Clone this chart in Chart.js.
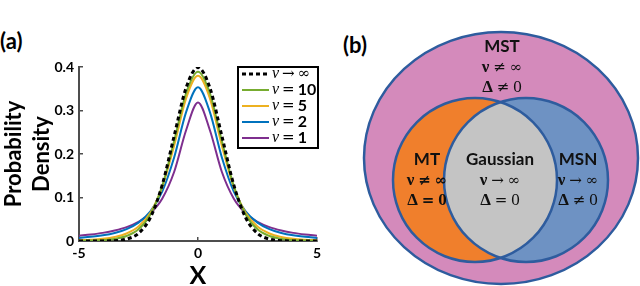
<!DOCTYPE html>
<html>
<head>
<meta charset="utf-8">
<script src="https://cdn.jsdelivr.net/npm/chart.js@4.4.0/dist/chart.umd.min.js"></script>
<style>
  body { margin: 0; background: #fff; width: 640px; height: 286px; position: relative; overflow: hidden; }
  canvas { position: absolute; top: 0; }
  #lines { left: 0; }
  #venn { left: 330px; }
  .tag { position: absolute; font: bold 22px Lato, sans-serif; color: #000; }
</style>
</head>
<body>
<div class="tag" style="left:0px; top:27px;">(a)</div>
<div class="tag" style="left:343px; top:31px;">(b)</div>
<canvas id="lines" width="330" height="286"></canvas>
<canvas id="venn" width="310" height="286"></canvas>
<script>
// x samples for the densities
const xs = [-5, -4.5, -4, -3.5, -3, -2.5, -2, -1.5, -1, -0.5, 0, 0.5, 1, 1.5, 2, 2.5, 3, 3.5, 4, 4.5, 5];
const nuInf = [0.0000015, 0.000016, 0.00013, 0.00087, 0.0044, 0.0175, 0.0540, 0.1295, 0.2420, 0.3521, 0.3989,
  0.3521, 0.2420, 0.1295, 0.0540, 0.0175, 0.0044, 0.00087, 0.00013, 0.000016, 0.0000015];
const nu10 = [0.0004, 0.0009, 0.0020, 0.0048, 0.0114, 0.0269, 0.0611, 0.1274, 0.2304, 0.3397, 0.3891,
  0.3397, 0.2304, 0.1274, 0.0611, 0.0269, 0.0114, 0.0048, 0.0020, 0.0009, 0.0004];
const nu5 = [0.0018, 0.0030, 0.0051, 0.0093, 0.0173, 0.0333, 0.0651, 0.1245, 0.2197, 0.3279, 0.3796,
  0.3279, 0.2197, 0.1245, 0.0651, 0.0333, 0.0173, 0.0093, 0.0051, 0.0030, 0.0018];
const nu2 = [0.0071, 0.0095, 0.0131, 0.0186, 0.0274, 0.0422, 0.0680, 0.1141, 0.1925, 0.2963, 0.3536,
  0.2963, 0.1925, 0.1141, 0.0680, 0.0422, 0.0274, 0.0186, 0.0131, 0.0095, 0.0071];
const nu1 = [0.0122, 0.0150, 0.0187, 0.0241, 0.0318, 0.0439, 0.0637, 0.0979, 0.1592, 0.2546, 0.3183,
  0.2546, 0.1592, 0.0979, 0.0637, 0.0439, 0.0318, 0.0241, 0.0187, 0.0150, 0.0122];
const seriesLabels = ['ν → ∞', 'ν = 10', 'ν = 5', 'ν = 2', 'ν = 1'];

// venn diagram texts
const vennSets = ['MST', 'MT', 'Gaussian', 'MSN'];
const vennNu = ['ν ≠ ∞', 'ν ≠ ∞', 'ν → ∞', 'ν → ∞'];
const vennDelta = ['Δ ≠ 0', 'Δ = 0', 'Δ = 0', 'Δ ≠ 0'];

const colors = ['#000000', '#77AC30', '#EDB120', '#0072BD', '#7E2F8E'];
const series = [nuInf, nu10, nu5, nu2, nu1];

const toPts = arr => arr.map((y, i) => ({ x: xs[i], y: y }));

const legendBox = {
  id: 'legendBox',
  afterDatasetsDraw(chart) {
    const { ctx, chartArea } = chart;
    const w = 80, h = 81;
    const left = chartArea.right + 1 - w, top = chartArea.top;
    ctx.save();
    ctx.fillStyle = '#fff';
    ctx.fillRect(left, top, w, h);
    ctx.strokeStyle = '#000';
    ctx.lineWidth = 2;
    ctx.strokeRect(left, top, w, h);
    chart.data.datasets.forEach((ds, i) => {
      const y = top + 7 + i * 16;
      ctx.beginPath();
      ctx.strokeStyle = ds.borderColor;
      ctx.lineWidth = ds.borderWidth;
      ctx.setLineDash(ds.borderDash || []);
      ctx.moveTo(left + 4, y);
      ctx.lineTo(left + 31, y);
      ctx.stroke();
      ctx.setLineDash([]);
      const parts = ds.label.split(' ');
      let x = left + 34;
      ctx.fillStyle = '#000';
      ctx.textBaseline = 'middle';
      ctx.font = 'italic 16px "Liberation Serif"';
      ctx.fillText(parts[0], x, y);
      x += ctx.measureText(parts[0]).width + 3;
      ctx.font = '15px "DejaVu Serif"';
      ctx.fillText(parts[1], x, y);
      x += ctx.measureText(parts[1]).width + 3;
      ctx.font = parts[2] === '∞' ? '15px "DejaVu Serif"' : 'bold 16px Lato';
      ctx.fillText(parts[2], x, y);
    });
    ctx.restore();
  }
};

const tickFont = { family: 'Lato', weight: 'bold', size: 14 };
const axisGrey = '#4d4d4d';

new Chart(document.getElementById('lines'), {
  type: 'line',
  data: {
    datasets: series.map((s, i) => ({
      label: seriesLabels[i],
      data: toPts(s),
      borderColor: colors[i],
      borderWidth: i === 0 ? 3 : 2,
      borderDash: i === 0 ? [4, 3] : [],
      pointRadius: 0,
      cubicInterpolationMode: 'monotone',
      fill: false
    }))
  },
  options: {
    responsive: false,
    animation: false,
    layout: { padding: { left: 0, top: 67, right: 13, bottom: 0 } },
    plugins: { legend: { display: false }, tooltip: { enabled: false } },
    scales: {
      x: {
        type: 'linear', min: -5, max: 5,
        ticks: { stepSize: 5, color: '#000', font: tickFont, padding: 8, maxRotation: 0 },
        grid: { drawOnChartArea: false, tickLength: -4, color: axisGrey, lineWidth: 1.5 },
        border: { color: axisGrey, width: 2 },
        title: { display: true, text: 'X', color: '#000', padding: 0,
          font: { family: 'Lato', weight: 'bold', size: 25, lineHeight: '20px' } },
        afterFit(s) { s.height = 45; }
      },
      y: {
        min: 0, max: 0.4,
        ticks: { stepSize: 0.1, color: '#000', font: tickFont, padding: 9 },
        grid: { drawOnChartArea: false, tickLength: -4, color: axisGrey, lineWidth: 1.5 },
        border: { color: axisGrey, width: 2 },
        title: { display: true, text: ['Probability', 'Density'], color: '#000', padding: 0,
          font: { family: 'Lato', weight: 'bold', size: 22, lineHeight: '28px' } },
        afterFit(s) { s.width = 79; }
      }
    }
  },
  plugins: [legendBox]
});

// venn geometry, in page pixels through hidden scales
const shapes = {
  outer: { cx: 501, cy: 158, rx: 137, ry: 126, fill: '#D48ABB' },
  left: { cx: 475, cy: 180, r: 82, fill: '#F07F2C' },
  right: { cx: 526, cy: 180, r: 82, fill: '#6E92C3' },
  lens: '#C4C4C4',
  edge: '#2E5C9E'
};
const labelPos = [[502, 47], [427, 160], [500, 160], [578, 160]];

const vennDraw = {
  id: 'vennDraw',
  afterDraw(chart) {
    const { ctx } = chart;
    const sx = chart.scales.x, sy = chart.scales.y;
    const px = v => sx.getPixelForValue(v), py = v => sy.getPixelForValue(v);
    const ellipse = (cx, cy, rx, ry) => {
      ctx.beginPath();
      ctx.ellipse(px(cx), py(cy), Math.abs(px(cx + rx) - px(cx)), Math.abs(py(cy + ry) - py(cy)), 0, 0, Math.PI * 2);
    };
    const o = shapes.outer, l = shapes.left, r = shapes.right;
    ctx.save();
    ctx.lineWidth = 2.5;
    ctx.strokeStyle = shapes.edge;
    ellipse(o.cx, o.cy, o.rx, o.ry);
    ctx.fillStyle = o.fill; ctx.fill(); ctx.stroke();
    ellipse(l.cx, l.cy, l.r, l.r);
    ctx.fillStyle = l.fill; ctx.fill();
    ellipse(r.cx, r.cy, r.r, r.r);
    ctx.fillStyle = r.fill; ctx.fill();
    ctx.save();
    ellipse(l.cx, l.cy, l.r, l.r);
    ctx.clip();
    ellipse(r.cx, r.cy, r.r, r.r);
    ctx.fillStyle = shapes.lens; ctx.fill();
    ctx.restore();
    ellipse(l.cx, l.cy, l.r, l.r); ctx.stroke();
    ellipse(r.cx, r.cy, r.r, r.r); ctx.stroke();

    ctx.fillStyle = '#111';
    ctx.textBaseline = 'middle';
    const mathLine = (txt, x, y, allBold) => {
      const parts = txt.split(' ');
      const fonts = parts.map((p, k) => {
        const w = (k === 0 || allBold) ? 'bold ' : '';
        if (k === 0 || p === '0') return w + '17px "Liberation Serif"';
        return w + '15px "DejaVu Serif"';
      });
      const widths = parts.map((p, k) => { ctx.font = fonts[k]; return ctx.measureText(p).width; });
      const gap = 4;
      const total = widths.reduce((a, b) => a + b, 0) + gap * (parts.length - 1);
      let cx = x - total / 2;
      ctx.textAlign = 'left';
      parts.forEach((p, k) => {
        ctx.font = fonts[k];
        ctx.fillText(p, cx, y);
        cx += widths[k] + gap;
      });
    };
    vennSets.forEach((name, i) => {
      const x = px(labelPos[i][0]), y = py(labelPos[i][1]);
      ctx.font = 'bold 17px Lato';
      ctx.textAlign = 'center';
      ctx.fillText(name, x, y);
      mathLine(vennNu[i], x, y + 21, name === 'MT');
      mathLine(vennDelta[i], x, y + 41, name === 'MT');
    });
    ctx.restore();
  }
};

new Chart(document.getElementById('venn'), {
  type: 'scatter',
  data: { datasets: [{ data: [] }] },
  options: {
    responsive: false,
    animation: false,
    layout: { padding: 0 },
    plugins: { legend: { display: false }, tooltip: { enabled: false } },
    scales: {
      x: { type: 'linear', min: 330, max: 640, display: false },
      y: { type: 'linear', min: 0, max: 286, reverse: true, display: false }
    }
  },
  plugins: [vennDraw]
});
</script>
</body>
</html>
